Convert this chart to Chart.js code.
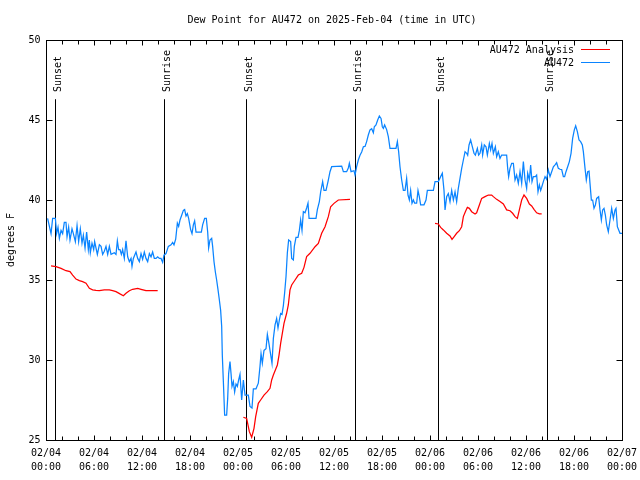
<!DOCTYPE html>
<html>
<head>
<meta charset="utf-8">
<script src="https://cdn.jsdelivr.net/npm/chart.js@4/dist/chart.umd.min.js"></script>
<style>
  html, body { margin: 0; padding: 0; background: #fff; }
  canvas { display: block; }
</style>
</head>
<body>
<canvas id="myChart" width="640" height="480"></canvas>
<script>
// hours since 2025-02-04 00:00 UTC
const blueHours = [
  0.2, 0.63, 0.83, 1.17, 1.33, 1.5, 1.67, 1.88, 2.08, 2.29, 2.5, 2.63, 2.83, 3.0, 3.25, 3.42, 3.67, 3.88,
  4.08, 4.29, 4.5, 4.67, 4.88, 5.08, 5.29, 5.42, 5.54, 5.75, 5.96, 6.08, 6.25, 6.42, 6.67, 6.88, 7.08,
  7.29, 7.5, 7.71, 7.92, 8.13, 8.54, 8.75, 8.92, 9.08, 9.25, 9.42, 9.58, 9.79, 10.0, 10.21, 10.42, 10.63,
  10.75, 10.92, 11.08, 11.25, 11.46, 11.67, 11.88, 12.08, 12.29, 12.5, 12.71, 12.92, 13.13, 13.33, 13.54,
  13.75, 13.96, 14.17, 14.38, 14.58, 14.75, 15.0, 15.29, 15.63, 15.83, 16.0, 16.21, 16.42, 16.58, 16.75,
  16.96, 17.17, 17.33, 17.5, 17.67, 17.83, 18.08, 18.25, 18.42, 18.58, 18.75, 19.04, 19.42, 19.58, 19.83,
  20.04, 20.21, 20.33, 20.5, 20.71, 20.83, 21.0, 21.17, 21.33, 21.5, 21.67, 21.83, 21.96, 22.04, 22.17,
  22.33, 22.58, 22.71, 22.83, 23.0, 23.13, 23.25, 23.42, 23.58, 23.75, 23.92, 24.08, 24.25, 24.46, 24.67,
  24.88, 25.29, 25.5, 25.75, 25.92, 26.25, 26.54, 26.75, 26.88, 27.04, 27.25, 27.5, 27.67, 27.83, 28.0,
  28.25, 28.42, 28.63, 28.83, 29.0, 29.17, 29.33, 29.5, 29.67, 29.83, 30.0, 30.17, 30.33, 30.58, 30.71,
  30.92, 31.04, 31.25, 31.5, 31.67, 31.83, 32.0, 32.17, 32.38, 32.58, 32.75, 32.88, 33.75, 33.92, 34.17,
  34.33, 34.58, 34.75, 35.0, 35.25, 35.5, 35.71, 36.96, 37.17, 37.58, 37.79, 37.92, 38.13, 38.21, 38.5,
  38.63, 38.83, 39.04, 39.25, 39.46, 39.67, 39.88, 40.08, 40.29, 40.5, 40.71, 40.92, 41.04, 41.25, 41.46,
  41.67, 41.88, 42.04, 42.17, 42.33, 42.58, 42.79, 43.0, 43.75, 43.92, 44.08, 44.25, 44.46, 44.67, 44.88,
  45.08, 45.25, 45.42, 45.58, 45.75, 45.92, 46.08, 46.33, 46.5, 46.67, 46.83, 47.25, 47.5, 47.67, 48.42,
  48.63, 49.04, 49.33, 49.54, 49.75, 49.88, 50.08, 50.29, 50.5, 50.71, 50.92, 51.13, 51.33, 51.54, 51.75,
  51.96, 52.17, 52.38, 52.58, 52.71, 52.88, 53.08, 53.29, 53.5, 53.67, 53.92, 54.08, 54.25, 54.46, 54.58,
  54.79, 55.0, 55.17, 55.42, 55.58, 55.75, 55.92, 56.17, 56.33, 56.54, 56.75, 56.96, 57.58, 57.71, 57.83,
  58.0, 58.21, 58.42, 58.63, 58.83, 59.04, 59.25, 59.46, 59.67, 59.88, 60.08, 60.21, 60.42, 60.58, 60.75,
  60.92, 61.17, 61.33, 61.5, 61.67, 61.83, 61.96, 62.17, 62.38, 62.58, 62.79, 63.0, 63.21, 63.42, 63.63,
  63.83, 64.04, 64.25, 64.46, 64.67, 64.83, 65.0, 65.21, 65.42, 65.63, 65.83, 66.04, 66.21, 66.42, 66.63,
  66.83, 67.04, 67.17, 67.38, 67.54, 67.71, 67.88, 68.0, 68.17, 68.33, 68.5, 68.67, 68.83, 69.08, 69.25,
  69.42, 69.58, 69.75, 69.92, 70.08, 70.29, 70.5, 70.71, 70.92, 71.13, 71.25, 71.42, 71.75, 72.0
];
const blueValues = [
  38.85, 37.9, 38.85, 38.85, 37.9, 38.3, 37.6, 38.1, 37.9, 38.6, 38.6, 37.7, 38.3, 37.5, 38.2, 37.9, 37.4, 38.4,
  37.4, 38.2, 37.3, 37.8, 37.0, 38.0, 36.9, 37.5, 36.7, 37.3, 36.9, 37.4, 37.0, 36.6, 37.2, 37.1, 36.6,
  36.8, 37.1, 36.6, 37.1, 36.6, 36.7, 36.6, 37.45, 36.9, 36.9, 36.6, 36.9, 36.35, 37.45, 36.45, 36.15, 36.35,
  35.85, 36.35, 36.55, 36.75, 36.35, 36.15, 36.65, 36.3, 36.75, 36.35, 36.15, 36.65, 36.45, 36.75, 36.35,
  36.35, 36.45, 36.35, 36.35, 36.1, 36.55, 36.65, 37.1, 37.2, 37.35, 37.2, 37.55, 38.55, 38.35, 38.75,
  39.05, 39.35, 39.4, 39.0, 39.15, 38.85, 38.15, 37.9, 38.45, 38.7, 38.0, 38.0, 38.0, 38.45, 38.85,
  38.85, 38.0, 37.0, 37.5, 37.6, 37.1, 36.15, 35.5, 35.0, 34.4, 33.75, 33.1, 32.1, 30.3, 28.65,
  26.55, 26.55, 27.6, 29.15, 29.9, 29.15, 28.35, 28.65, 28.0, 28.5, 28.35, 28.75, 29.1, 27.5, 28.75,
  27.8, 27.8, 27.1, 27.0, 28.2, 28.2, 28.55, 29.6, 30.4, 29.8, 30.6, 30.7, 31.6, 31.15, 30.6,
  29.8, 31.35, 32.2, 32.6, 32.0, 32.5, 32.9, 32.85, 33.4, 34.2, 35.2, 36.7, 37.5, 37.4, 36.35,
  36.25, 37.1, 37.67, 37.67, 38.1, 38.75, 38.1, 39.27, 39.2, 39.5, 39.8, 38.85, 38.85, 39.4, 39.9,
  40.5, 41.15, 40.6, 40.6, 41.15, 41.77, 42.08, 42.12, 41.77, 41.77, 42.0, 42.29, 41.77, 41.77, 41.83,
  41.56, 42.08, 42.5, 42.8, 43.0, 43.33, 43.35, 43.65, 44.06, 44.38, 44.45, 44.2, 44.58, 44.69, 45.0,
  45.25, 45.1, 44.58, 44.48, 44.69, 44.4, 43.96, 43.23, 43.23, 43.65, 43.02, 42.08, 41.25, 40.6, 40.6,
  41.35, 40.3, 40.0, 40.6, 39.8, 40.0, 39.8, 39.8, 40.6, 40.2, 39.7, 39.7, 40.0, 40.6, 40.6,
  41.15, 41.15, 41.46, 41.67, 40.6, 39.38, 40.2, 40.4, 39.9, 40.6, 40.0, 40.5, 39.9, 40.73, 41.35,
  41.98, 42.5, 43.02, 42.92, 42.8, 43.44, 43.75, 43.33, 42.92, 42.81, 43.23, 42.81, 42.92, 43.44, 42.81,
  43.44, 43.33, 42.81, 43.54, 43.13, 43.54, 42.92, 43.33, 42.71, 43.02, 42.6, 42.81, 42.81, 41.98, 41.46,
  41.98, 42.29, 42.29, 41.25, 41.56, 41.04, 41.77, 41.04, 42.4, 41.25, 40.73, 41.67, 41.25, 42.19, 41.15,
  41.46, 41.46, 41.56, 40.52, 40.94, 40.6, 40.8, 41.15, 41.46, 41.3, 41.88, 41.46, 41.77, 42.08, 42.2,
  42.33, 41.98, 41.92, 41.9, 41.46, 41.46, 41.77, 42.08, 42.4, 42.92, 43.85, 44.38, 44.63, 44.27, 43.75,
  43.65, 43.44, 43.02, 41.98, 41.25, 41.77, 41.8, 41.04, 40.0, 40.0, 39.48, 39.69, 40.1, 40.2, 39.38,
  38.75, 39.38, 39.48, 39.06, 38.44, 38.02, 38.75, 39.48, 38.85, 39.38, 39.48, 38.33, 37.92, 37.92
];

// analysis series, null marks the gaps
const redHours = [
  0.63, 1.25, 1.88, 2.5, 3.0, 3.33, 3.75, 4.17, 4.58, 5.0, 5.42, 5.83, 6.25, 6.67, 7.29, 7.92, 8.33, 8.75,
  9.25, 9.67, 10.0, 10.42, 10.83, 11.46, 11.88, 12.5, 13.13, 13.96,
  14.5,
  24.67, 25.08, 25.42, 25.71, 26.0, 26.21, 26.54, 26.83, 27.25, 27.67, 28.0, 28.21, 28.42, 28.71, 28.92,
  29.13, 29.33, 29.54, 29.75, 30.08, 30.29, 30.5, 30.71, 31.13, 31.54, 31.96, 32.25, 32.58, 33.0, 33.63,
  34.04, 34.46, 34.88, 35.29, 35.58, 36.0, 36.54, 38.0,
  43.0,
  48.63, 49.04, 49.33, 49.67, 50.08, 50.5, 50.75, 51.0, 51.33, 51.67, 51.96, 52.17, 52.42, 52.67, 52.92,
  53.21, 53.63, 53.83, 54.17, 54.46, 54.88, 55.29, 55.71, 55.92, 56.33, 56.75, 57.17, 57.58, 58.0, 58.33,
  58.63, 58.92, 59.17, 59.46, 59.75, 60.08, 60.42, 60.71, 61.0, 61.33, 61.67, 61.96
];
const redValues = [
  35.88, 35.83, 35.73, 35.58, 35.52, 35.31, 35.06, 34.96, 34.9, 34.8, 34.48, 34.38, 34.35, 34.33, 34.38, 34.38, 34.33, 34.27,
  34.13, 34.02, 34.17, 34.33, 34.42, 34.48, 34.42, 34.33, 34.33, 34.33,
  null,
  26.42, 26.35, 25.52, 25.17, 25.73, 26.46, 27.29, 27.5, 27.81, 28.02, 28.23, 28.75, 29.06, 29.42, 29.69,
  30.31, 31.04, 31.67, 32.29, 32.92, 33.44, 34.38, 34.69, 35.0, 35.31, 35.42, 35.79, 36.46, 36.67, 37.08,
  37.29, 37.92, 38.33, 38.96, 39.58, 39.79, 40.0, 40.04,
  null,
  38.54, 38.5, 38.29, 38.13, 37.92, 37.75, 37.54, 37.7, 37.92, 38.08, 38.33, 38.96, 39.27, 39.54, 39.48,
  39.27, 39.13, 39.2, 39.69, 40.1, 40.21, 40.31, 40.31, 40.21, 40.04, 39.9, 39.75, 39.38, 39.33, 39.17,
  38.96, 38.85, 39.38, 40.0, 40.31, 40.1, 39.75, 39.63, 39.42, 39.2, 39.13, 39.13
];

const eventHours = [1.13, 14.79, 25.04, 38.67, 49.04, 62.67];
const eventLabels = ['Sunset', 'Sunrise', 'Sunset', 'Sunrise', 'Sunset', 'Sunrise'];

const xTickHours = [0, 6, 12, 18, 24, 30, 36, 42, 48, 54, 60, 66, 72];
const xTickDates = ['02/04', '02/04', '02/04', '02/04', '02/05', '02/05', '02/05', '02/05', '02/06', '02/06', '02/06', '02/06', '02/07'];
const xTickTimes = ['00:00', '06:00', '12:00', '18:00', '00:00', '06:00', '12:00', '18:00', '00:00', '06:00', '12:00', '18:00', '00:00'];
const yTicks = [25, 30, 35, 40, 45, 50];

const FONT = '10px "DejaVu Sans Mono", monospace';

const gnuplotFrame = {
  id: 'gnuplotFrame',
  beforeDatasetsDraw(chart) {
    const ctx = chart.ctx;
    const x = chart.scales.x, y = chart.scales.y;
    const area = chart.chartArea;
    ctx.save();
    ctx.strokeStyle = '#000';
    ctx.lineWidth = 1;
    ctx.fillStyle = '#000';
    ctx.font = FONT;
    eventHours.forEach((h, i) => {
      const px = Math.round(x.getPixelForValue(h)) + 0.5;
      ctx.beginPath();
      ctx.moveTo(px, y.getPixelForValue(46.3));
      ctx.lineTo(px, area.bottom);
      ctx.stroke();
      ctx.save();
      ctx.translate(px + 5, 92);
      ctx.rotate(-Math.PI / 2);
      ctx.textAlign = 'left';
      ctx.textBaseline = 'alphabetic';
      ctx.fillText(eventLabels[i], 0, 0);
      ctx.restore();
    });
    ctx.restore();
  },
  afterDraw(chart) {
    const ctx = chart.ctx;
    const x = chart.scales.x, y = chart.scales.y;
    const a = chart.chartArea;
    const L = Math.round(a.left) + 0.5, R = Math.round(a.right) + 0.5;
    const T = Math.round(a.top) + 0.5, B = Math.round(a.bottom) + 0.5;
    ctx.save();
    ctx.strokeStyle = '#000';
    ctx.fillStyle = '#000';
    ctx.lineWidth = 1;
    ctx.strokeRect(L, T, R - L, B - T);

    // x ticks, inward on bottom and top
    ctx.beginPath();
    for (let h = 0; h <= 72; h += 2) {
      const px = Math.round(x.getPixelForValue(h)) + 0.5;
      const len = h % 6 === 0 ? 5 : 4;
      ctx.moveTo(px, B); ctx.lineTo(px, B - len);
      ctx.moveTo(px, T); ctx.lineTo(px, T + len);
    }
    yTicks.forEach(v => {
      const py = Math.round(y.getPixelForValue(v)) + 0.5;
      ctx.moveTo(L, py); ctx.lineTo(L + 6, py);
      ctx.moveTo(R, py); ctx.lineTo(R - 6, py);
    });
    ctx.stroke();

    ctx.font = FONT;
    ctx.textAlign = 'right';
    ctx.textBaseline = 'middle';
    yTicks.forEach(v => ctx.fillText(String(v), L - 6, y.getPixelForValue(v)));

    ctx.textAlign = 'center';
    xTickHours.forEach((h, i) => {
      const px = x.getPixelForValue(h);
      ctx.fillText(xTickDates[i], px, 453);
      ctx.fillText(xTickTimes[i], px, 467);
    });

    // title
    ctx.fillText('Dew Point for AU472 on 2025-Feb-04 (time in UTC)', 332, 20);

    // y label
    ctx.save();
    ctx.translate(11, 240);
    ctx.rotate(-Math.PI / 2);
    ctx.fillText('degrees F', 0, 0);
    ctx.restore();

    // key
    ctx.textAlign = 'right';
    chart.data.datasets.forEach((ds, i) => {
      const ly = 49 + i * 13;
      ctx.fillStyle = '#000';
      ctx.fillText(ds.label, 574, ly + 1);
      ctx.strokeStyle = ds.borderColor;
      ctx.lineWidth = 1;
      ctx.beginPath();
      ctx.moveTo(581, ly + 0.5);
      ctx.lineTo(610, ly + 0.5);
      ctx.stroke();
    });
    ctx.restore();
  }
};

new Chart(
  document.getElementById('myChart'),
  {
    type: 'line',
    data: {
      datasets: [
        {
          label: 'AU472 Analysis',
          data: redHours.map((h, i) => ({ x: h, y: redValues[i] })),
          borderColor: '#ff0000',
          borderWidth: 1.25,
          pointRadius: 0,
          tension: 0,
          spanGaps: false
        },
        {
          label: 'AU472',
          data: blueHours.map((h, i) => ({ x: h, y: blueValues[i] })),
          borderColor: '#0a84ff',
          borderWidth: 1.25,
          pointRadius: 0,
          tension: 0
        }
      ]
    },
    options: {
      responsive: false,
      animation: false,
      layout: { padding: { left: 46, right: 18, top: 40, bottom: 40 } },
      scales: {
        x: { type: 'linear', min: 0, max: 72, display: false },
        y: { min: 25, max: 50, display: false }
      },
      plugins: {
        legend: { display: false },
        tooltip: { enabled: false }
      }
    },
    plugins: [gnuplotFrame]
  }
);
</script>
</body>
</html>
